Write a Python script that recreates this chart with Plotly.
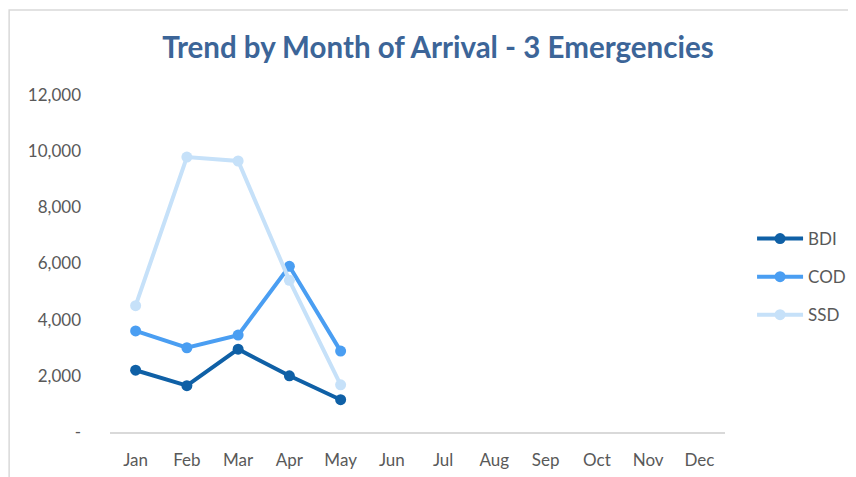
import plotly.graph_objects as go

months = ['Jan', 'Feb', 'Mar', 'Apr', 'May', 'Jun', 'Jul', 'Aug', 'Sep', 'Oct', 'Nov', 'Dec']
bdi = [2200, 1650, 2950, 2000, 1150]
cod = [3600, 3000, 3450, 5900, 2880]
ssd = [4500, 9790, 9650, 5400, 1680]

ytick_vals = [0, 2000, 4000, 6000, 8000, 10000, 12000]
ytick_text = ['-', '2,000', '4,000', '6,000', '8,000', '10,000', '12,000']

series = [
    ('BDI', bdi, '#0F60A6'),
    ('COD', cod, '#4A9EF2'),
    ('SSD', ssd, '#C6E1F9'),
]

FONT = 'Lato'

fig = go.Figure()
for name, vals, color in series:
    fig.add_trace(go.Scatter(
        x=months[:len(vals)], y=vals, name=name, mode='lines+markers',
        legendgroup=name,
        line=dict(color=color, width=4),
        marker=dict(color=color, size=11),
    ))

# page has an 8px body margin, so the figure is a bit smaller than the window
fig.update_layout(
    width=848, height=469,
    margin=dict(l=102, r=131, t=87, b=45, autoexpand=False),
    paper_bgcolor='white', plot_bgcolor='white',
    title=dict(text='<b>Trend by Month of Arrival - 3 Emergencies</b>',
               x=0.507, xanchor='center', y=0.915, yanchor='middle',
               font=dict(family=FONT, size=29.5, color='#3C6598')),
    font=dict(family=FONT, size=17, color='#595959'),
    legend=dict(x=1.044, y=0.46, xanchor='left', yanchor='middle',
                traceorder='grouped', itemwidth=46, tracegroupgap=13,
                font=dict(family=FONT, size=17, color='#595959')),
    xaxis=dict(categoryorder='array', categoryarray=months, range=[-0.5, 11.5],
               showline=True, linecolor='#D9D9D9', linewidth=1.5, automargin=False,
               showgrid=False, zeroline=False, ticks='', ticklabelstandoff=12),
    yaxis=dict(range=[0, 12000], tickvals=ytick_vals, ticktext=ytick_text,
               showgrid=False, zeroline=False, showline=False, ticks='',
               automargin=False, ticklabelstandoff=28),
    shapes=[dict(type='rect', xref='paper', yref='paper',
                 x0=-0.164, x1=1.4, y0=-0.3, y1=1.252,
                 line=dict(color='#D9D9D9', width=1.5), fillcolor='rgba(0,0,0,0)',
                 layer='below')],
)

fig.write_html('out.html')
